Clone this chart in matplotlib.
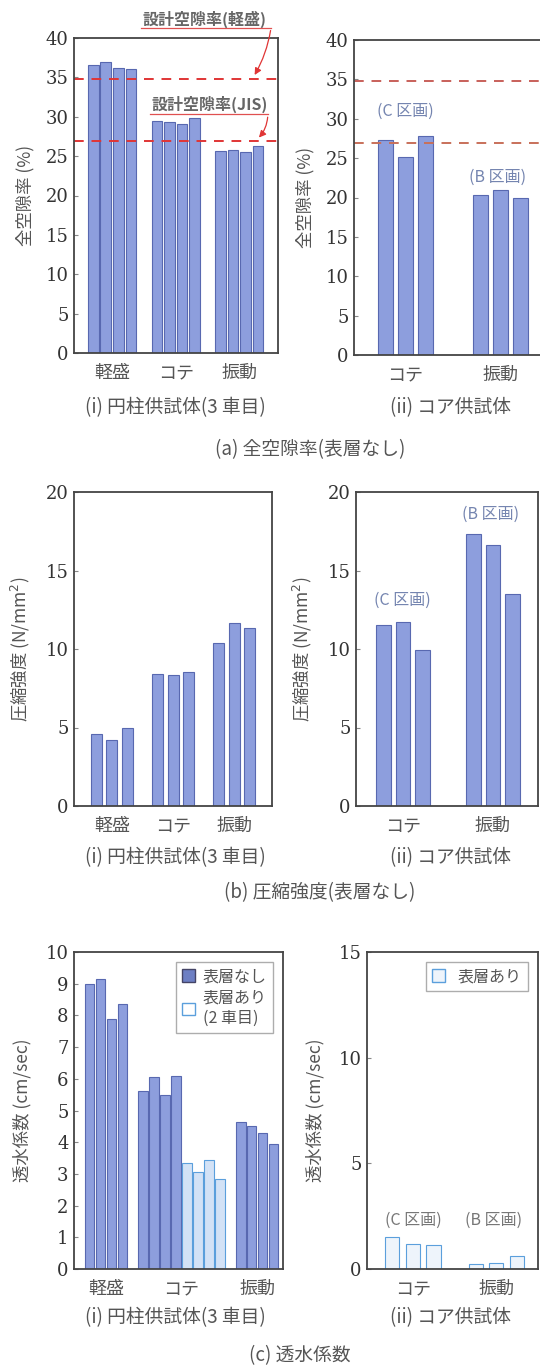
import matplotlib.pyplot as plt
from matplotlib.patches import Patch

plt.rcParams['font.family'] = ['Noto Sans CJK JP', 'DejaVu Sans']

# (a) 全空隙率(表層なし)
cyl_groups = ['軽盛', 'コテ', '振動']
core_groups = ['コテ', '振動']
void_cyl = [[36.6, 37.0, 36.2, 36.1],
            [29.5, 29.3, 29.1, 29.8],
            [25.6, 25.8, 25.5, 26.3]]
void_core = [[27.3, 25.1, 27.8],
             [20.3, 20.9, 19.9]]
design_void_light = 34.8
design_void_jis = 26.9

# (b) 圧縮強度(表層なし)
strength_cyl = [[4.6, 4.2, 5.0],
                [8.4, 8.35, 8.55],
                [10.4, 11.65, 11.35]]
strength_core = [[11.5, 11.75, 9.95],
                 [17.3, 16.65, 13.5]]

# (c) 透水係数
perm_cyl_plain = [[9.0, 9.15, 7.9, 8.35],
                  [5.6, 6.05, 5.5, 6.1],
                  [4.65, 4.5, 4.3, 3.95]]
perm_cyl_surface = [3.35, 3.05, 3.45, 2.85]   # コテ, 表層あり(2車目)
perm_core_surface = [[1.5, 1.2, 1.15],
                     [0.25, 0.3, 0.6]]

W, H = 540, 1368
DARK_FACE = '#8d9edd'
DARK_EDGE = '#5868b0'
LIGHT_FACE = '#d3e2f6'
LIGHT_EDGE = '#5b9fdc'
NUM_FONT = 'DejaVu Serif'
GREY = '#555555'


def box(l, r, t, b):
    return [l / W, 1 - b / H, (r - l) / W, (b - t) / H]


def style_axes(ax, ymax, step, groups, centers, xlim):
    ax.set_ylim(0, ymax)
    ax.set_xlim(*xlim)
    ax.set_yticks(range(0, ymax + 1, step))
    ax.set_yticklabels([str(v) for v in range(0, ymax + 1, step)],
                       family=NUM_FONT, fontsize=13, color='#333333')
    ax.set_xticks(centers)
    ax.set_xticklabels(groups, fontsize=13, color=GREY)
    ax.tick_params(axis='y', direction='in', length=3, width=0.8, colors='#888888',
                   labelcolor='#333333', pad=4)
    ax.tick_params(axis='x', length=0, pad=8)
    for s in ax.spines.values():
        s.set_color('#444444')
        s.set_linewidth(1.3)


def bars(ax, center, vals, step, width, face=DARK_FACE, edge=DARK_EDGE):
    n = len(vals)
    xs = [center + (i - (n - 1) / 2) * step for i in range(n)]
    ax.bar(xs, vals, width=width, color=face, edgecolor=edge, linewidth=0.8)
    return xs


def captions(y_sub, y_main, main_text, x_main):
    fig.text(175 / W, 1 - y_sub / H, '(i) 円柱供試体(3 車目)', ha='center', va='center',
             fontsize=13.5, color=GREY)
    fig.text(450 / W, 1 - y_sub / H, '(ii) コア供試体', ha='center', va='center',
             fontsize=13.5, color=GREY)
    fig.text(x_main / W, 1 - y_main / H, main_text, ha='center', va='center',
             fontsize=13.5, color=GREY)


fig = plt.figure(figsize=(W / 100, H / 100), dpi=100)

# ---------- (a)(i)
ax = fig.add_axes(box(74, 278, 38, 353))
for i, vals in enumerate(void_cyl):
    bars(ax, i, vals, 0.197, 0.17)
style_axes(ax, 40, 5, cyl_groups, [0, 1, 2], (-0.6, 2.61))
ax.axhline(design_void_light, color='#e03535', ls=(0, (5, 4)), lw=1.4)
ax.axhline(design_void_jis, color='#e03535', ls=(0, (5, 4)), lw=1.4)
ax.set_ylabel('全空隙率 (%)', fontsize=12.5, color=GREY, labelpad=8)
ax.text(1.46, 42.4, '設計空隙率(軽盛)', ha='center', va='center', fontsize=11.5,
        fontweight='bold', color='#666666', clip_on=False)
ax.plot([0.45, 2.5], [41.3, 41.3], color='#e05050', lw=0.9, clip_on=False)
ax.annotate('', xy=(2.22, design_void_light + 0.2), xytext=(2.5, 41.3),
            arrowprops=dict(arrowstyle='-|>', color='#e03535', lw=0.9,
                            connectionstyle='arc3,rad=-0.1'),
            annotation_clip=False)
ax.text(1.53, 31.6, '設計空隙率(JIS)', ha='center', va='center', fontsize=11.5,
        fontweight='bold', color='#666666')
ax.plot([0.6, 2.45], [30.3, 30.3], color='#e05050', lw=0.9)
ax.annotate('', xy=(2.28, design_void_jis + 0.2), xytext=(2.45, 30.3),
            arrowprops=dict(arrowstyle='-|>', color='#e03535', lw=0.9,
                            connectionstyle='arc3,rad=-0.2'))

# ---------- (a)(ii)
ax = fig.add_axes(box(354, 560, 40, 355))
for i, vals in enumerate(void_core):
    bars(ax, i, vals, 0.21, 0.16)
style_axes(ax, 40, 5, core_groups, [0, 1], (-0.54, 1.63))
ax.axhline(design_void_light, color='#c8605a', ls=(0, (5, 4)), lw=1.4)
ax.axhline(design_void_jis, color='#c8705a', ls=(0, (5, 4)), lw=1.4)
ax.set_ylabel('全空隙率 (%)', fontsize=12.5, color=GREY, labelpad=8)
ax.text(0, 31, '(C 区画)', ha='center', va='center', fontsize=11.5, color='#7585b0')
ax.text(0.97, 22.5, '(B 区画)', ha='center', va='center', fontsize=11.5, color='#7585b0')

captions(408, 450, '(a) 全空隙率(表層なし)', 310)

# ---------- (b)(i)
ax = fig.add_axes(box(74, 272, 492, 806))
for i, vals in enumerate(strength_cyl):
    bars(ax, i, vals, 0.254, 0.18)
style_axes(ax, 20, 5, cyl_groups, [0, 1, 2], (-0.62, 2.62))
ax.set_ylabel('圧縮強度 (N/mm$^2$)', fontsize=12.5, color=GREY, labelpad=10)

# ---------- (b)(ii)
ax = fig.add_axes(box(356, 538, 492, 806))
for i, vals in enumerate(strength_core):
    bars(ax, i, vals, 0.217, 0.16)
style_axes(ax, 20, 5, core_groups, [0, 1], (-0.52, 1.5))
ax.set_ylabel('圧縮強度 (N/mm$^2$)', fontsize=12.5, color=GREY, labelpad=10)
ax.text(0, 13.1, '(C 区画)', ha='center', va='center', fontsize=11.5, color='#7585b0')
ax.text(0.97, 18.6, '(B 区画)', ha='center', va='center', fontsize=11.5, color='#7585b0')

captions(858, 893, '(b) 圧縮強度(表層なし)', 320)

# ---------- (c)(i)
ax = fig.add_axes(box(74, 283, 952, 1269))
step, width = 0.145, 0.125
bars(ax, 0, perm_cyl_plain[0], step, width)
bars(ax, 2, perm_cyl_plain[2], step, width)
kote = perm_cyl_plain[1] + perm_cyl_surface
n = len(kote)
xs = [1 + (i - (n - 1) / 2) * step for i in range(n)]
ax.bar(xs[:4], perm_cyl_plain[1], width=width, color=DARK_FACE, edgecolor=DARK_EDGE, linewidth=0.8)
ax.bar(xs[4:], perm_cyl_surface, width=width, color=LIGHT_FACE, edgecolor=LIGHT_EDGE, linewidth=0.8)
style_axes(ax, 10, 1, cyl_groups, [0, 1, 2], (-0.42, 2.34))
ax.set_ylabel('透水係数 (cm/sec)', fontsize=12.5, color=GREY, labelpad=10)
handles = [Patch(facecolor='#6d7fc4', edgecolor='#444466', label='表層なし'),
           Patch(facecolor='white', edgecolor=LIGHT_EDGE, label='表層あり\n(2 車目)')]
leg = ax.legend(handles=handles, loc='upper right', fontsize=11.5, frameon=True,
                fancybox=False, handlelength=0.8, handleheight=0.8,
                borderaxespad=0.6, labelspacing=0.3, handletextpad=0.5)
leg.get_frame().set_edgecolor('#999999')
for t in leg.get_texts():
    t.set_color(GREY)

# ---------- (c)(ii)
ax = fig.add_axes(box(367, 538, 952, 1269))
for i, vals in enumerate(perm_core_surface):
    bars(ax, i, vals, 0.247, 0.17, face='#eef4fb', edge=LIGHT_EDGE)
style_axes(ax, 15, 5, core_groups, [0, 1], (-0.55, 1.5))
ax.set_ylabel('透水係数 (cm/sec)', fontsize=12.5, color=GREY, labelpad=10)
ax.text(0, 2.3, '(C 区画)', ha='center', va='center', fontsize=11.5, color='#777777')
ax.text(0.97, 2.3, '(B 区画)', ha='center', va='center', fontsize=11.5, color='#777777')
leg = ax.legend(handles=[Patch(facecolor='#eef4fb', edgecolor=LIGHT_EDGE, label='表層あり')],
                loc='upper right', fontsize=11.5, frameon=True, fancybox=False,
                handlelength=0.8, handleheight=0.8, borderaxespad=0.6)
leg.get_frame().set_edgecolor('#999999')
for t in leg.get_texts():
    t.set_color(GREY)

captions(1318, 1356, '(c) 透水係数', 300)

fig.savefig('out.png', dpi=100)
